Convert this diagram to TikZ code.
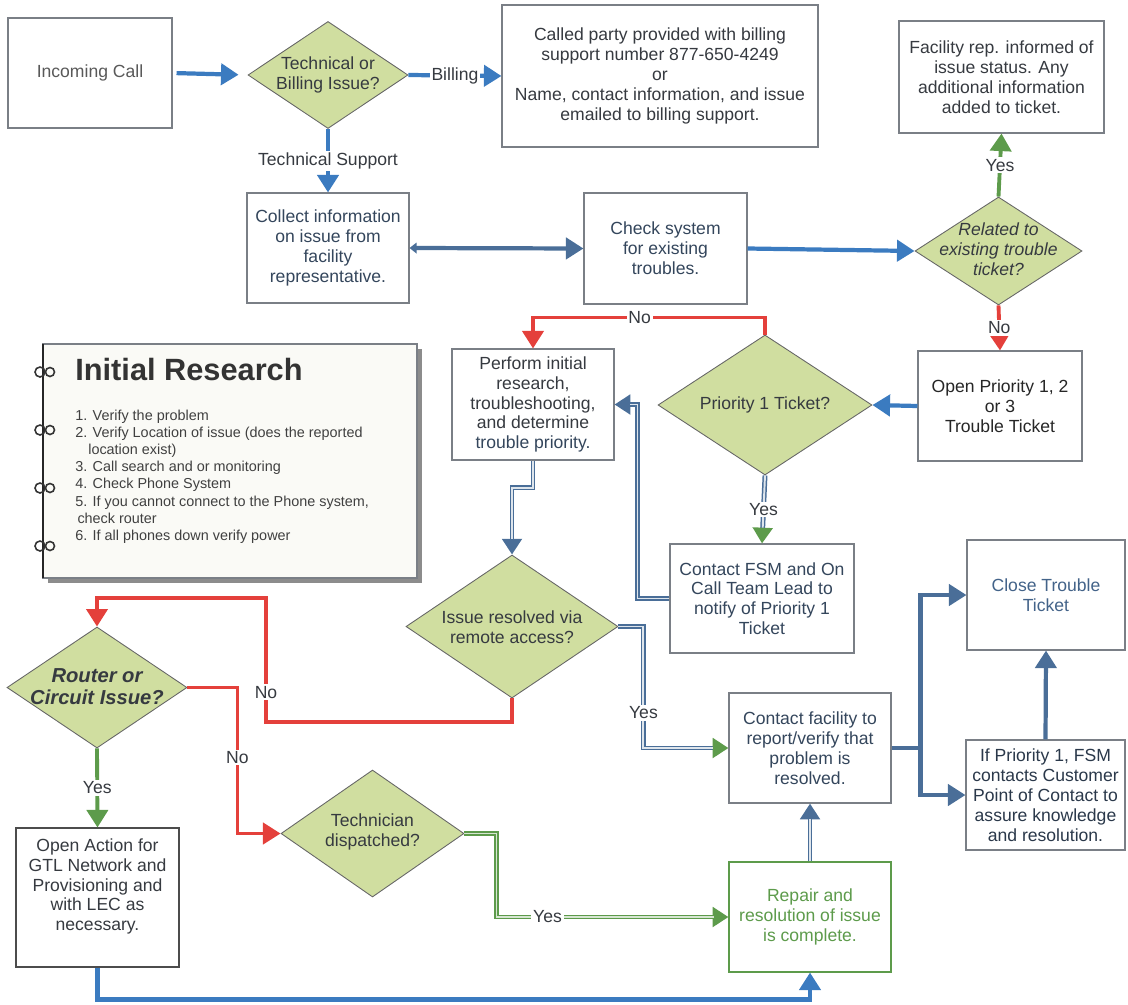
\documentclass[tikz,border=0pt]{standalone}
\usepackage{fontspec}
\setmainfont{Liberation Sans}
\usetikzlibrary{shapes.geometric,arrows.meta,calc}
\definecolor{bluA}{HTML}{3B7BC0}
\definecolor{stlA}{HTML}{4A6E98}
\definecolor{redA}{HTML}{E4403B}
\definecolor{grnA}{HTML}{5D9B4B}
\definecolor{diaF}{HTML}{D0DEA0}
\definecolor{txtA}{HTML}{363A40}
\definecolor{txtB}{HTML}{34465C}
\definecolor{bordA}{HTML}{7A7F86}
\definecolor{noteF}{HTML}{FAFAF6}
\tikzset{
 px/.style 2 args={minimum width=#1*0.02cm, minimum height=#2*0.02cm},
 box/.style={draw=bordA, line width=0.6pt, fill=white, inner sep=0pt, align=center, text=txtB, font=\fontsize{10}{11.3}\selectfont},
 dia/.style={diamond, draw=black!60, line width=0.5pt, fill=diaF, inner sep=0pt},
 dtxt/.style={align=center, inner sep=0pt, text=txtA, font=\fontsize{10}{11.3}\selectfont},
 lbl/.style={fill=white, inner sep=1pt, text=txtA, font=\fontsize{10}{11.3}\selectfont},
 tipL/.style={-{Triangle[length=10pt,width=12pt]}},
 conb/.style={draw=bluA, line width=2.4pt, tipL},
 cons/.style={draw=stlA, line width=2.4pt},
 conr/.style={draw=redA, line width=2.2pt, tipL},
 cong/.style={draw=grnA, line width=2.2pt, tipL},
 cond/.style={draw=stlA, line width=2.8pt, postaction={draw=white!82!stlA, line width=1.1pt, -, shorten >=9pt}},
 condg/.style={draw=grnA, line width=2.4pt, -{Triangle[length=9pt,width=11pt]}, postaction={draw=white!75!grnA, line width=0.9pt, -, shorten >=8pt}},
 tipG/.style={-{Triangle[length=9pt,width=11pt,color=grnA]}},
 tipS/.style={-{Triangle[length=9pt,width=11pt]}},
}
\begin{document}
\begin{tikzpicture}[x=0.02cm, y=-0.02cm]
\useasboundingbox (0,0) rectangle (1128,1004);
% boxes
\node[box, px={164}{110}, text=black!65] (inc) at (90,73) {Incoming Call};
\node[box, px={316}{142}, text=txtA] (bill) at (660,76) {Called party provided with billing\\support number 877-650-4249\\or\\Name, contact information, and issue\\emailed to billing support.};
\node[box, px={205}{112}, text=txtA] (fac) at (1001.5,77) {Facility rep. informed of\\issue status. Any\\additional information\\added to ticket.};
\node[box, px={162}{110}] (collect) at (328,248) {Collect information\\on issue from\\facility\\representative.};
\node[box, px={163}{111}] (check) at (665.5,248.5) {Check system\\for existing\\troubles.};
\node[box, px={164}{110}, text=black!85] (open) at (1000,406) {Open Priority 1, 2\\or 3\\Trouble Ticket};
\node[box, px={162}{111}, text=txtA] (perform) at (533,404.5) {Perform initial\\research,\\troubleshooting,\\and determine\\\textcolor{txtB}{trouble priority.}};
\node[box, px={184}{109}] (fsm) at (762,598.5) {Contact FSM and On\\Call Team Lead to\\notify of Priority 1\\Ticket};
\node[box, px={158}{110}, text=stlA!90!black] (close) at (1046,595) {Close Trouble\\Ticket};
\node[box, px={162}{110}] (contact) at (810,748) {Contact facility to\\report/verify that\\problem is\\resolved.};
\node[box, px={162}{110}, draw=grnA, text=grnA] (repair) at (810,917) {Repair and\\resolution of issue\\is complete.};
\node[box, px={159}{110}, text=txtB!80!black] (ifp) at (1045.5,795) {If Priority 1, FSM\\contacts Customer\\Point of Contact to\\assure knowledge\\and resolution.};
\node[box, px={163}{139}, draw=black!70] (openact) at (97.5,897.5) {};
\node[dtxt, text=txtA] (openactt) at (97.5,886.5) {Open Action for\\GTL Network and\\Provisioning and\\with LEC as\\necessary.};
% diamonds
\node[dia, px={160}{107}] (tob) at (328,75) {};
\node[dtxt] (tobt) at (328,75) {Technical or\\Billing Issue?};
\node[dia, px={167}{108}] (rel) at (998.5,251) {};
\node[dtxt, font=\fontsize{10}{11.3}\selectfont\itshape] (relt) at (998.5,249) {Related to\\existing trouble\\ticket?};
\node[dia, px={214}{140}] (pri) at (765,405) {};
\node[dtxt] (prit) at (765,405) {Priority 1 Ticket?};
\node[dia, px={212}{143}] (iss) at (512,626.5) {};
\node[dtxt] (isst) at (512,627.5) {Issue resolved via\\remote access?};
\node[dia, px={180}{121}] (router) at (97,687.5) {};
\node[dtxt, font=\fontsize{11.5}{12.5}\selectfont\bfseries\itshape] (routert) at (97,687) {Router or\\Circuit Issue?};
\node[dia, px={183}{127}] (tech) at (372.5,833.5) {};
\node[dtxt] (techt) at (372.5,832) {Technician\\dispatched?};
% note
\fill[black!45] (48,349) rectangle (422,583);
\draw[bordA, fill=noteF, line width=0.6pt] (43,344) rectangle (417,578);
\draw[black!85, line width=0.9pt] (43,344) -- (43,578);
\foreach \yy in {372,430,488,546}{
  \draw[black!80, line width=0.9pt] (40,\yy) circle[radius=0.1cm];
  \draw[black!80, line width=0.9pt] (50,\yy) circle[radius=0.09cm];
}
\node[anchor=west, inner sep=0pt, text=black!80, font=\fontsize{17.5}{20}\selectfont\bfseries] (ttl) at (75,370) {Initial Research};
\node[anchor=north west, inner sep=0pt, align=left, text=black!75, font=\fontsize{8.2}{9.7}\selectfont] (lst) at (75,410) {1. Verify the problem\\2. Verify Location of issue (does the reported\\\hspace*{0.9em}location exist)\\3. Call search and or monitoring\\4. Check Phone System\\5. If you cannot connect to the Phone system,\\\hspace*{0.15em}check router\\6. If all phones down verify power};
% connectors
\draw[conb, shorten <=0.08cm, shorten >=0.18cm] (inc.east) -- (tob.west);
\draw[conb] (tob.east) -- node[lbl] (lbill) {Billing} (bill.west);
\draw[conb] (tob.south) -- node[lbl] (ltech) {Technical Support} (collect.north);
\draw[cons, {Triangle[length=4pt,width=6pt]}-{Triangle[length=10pt,width=12pt]}] (collect.east) -- (check.west);
\draw[conb] (check.east) -- (rel.west);
\draw[cong] (rel.north) -- node[lbl] (lyes1) {Yes} (fac.south);
\draw[conr] (rel.south) -- node[lbl] (lno1) {No} (open.north);
\draw[conb] (open.west) -- (pri.east);
\draw[conr] (pri.north) -- ++(0,-17) -| node[lbl, pos=0.27] (lno2) {No} (perform.north);
\draw[cond, tipG] (pri.south) -- node[lbl] (lyes2) {Yes} (fsm.north);
\draw[cond, tipS] (fsm.west) -- ++(-32,0) |- (perform.east);
\draw[cond, tipS] (perform.south) -- ++(0,27) -| (iss.north);
\draw[conr] (iss.south) |- (266,722) -- node[lbl, pos=0.24] (lno3) {No} (266,598) -| (router.north);
\draw[cond, tipG] (iss.east) -- ++(25,0) |- node[lbl, pos=0.356] (lyes3) {Yes} (contact.west);
\draw[conr] (router.east) -- ++(50,0) |- node[lbl, pos=0.24] (lno4) {No} (tech.west);
\draw[cong] (router.south) -- node[lbl] (lyes4) {Yes} (openact.north);
\draw[condg] (tech.east) -- ++(32,0) |- node[lbl, pos=0.61] (lyes5) {Yes} (repair.west);
\draw[conb] (openact.south) -- ++(0,32) -| (repair.south);
\draw[cond, tipS] (repair.north) -- (contact.south);
\draw[cons, tipL] (contact.east) -- ++(29,0) |- (close.west);
\draw[cons, tipL] (contact.east) -- ++(29,0) |- (ifp.west);
\draw[cons, tipL] (ifp.north) -- (close.south);
\end{tikzpicture}
\end{document}
